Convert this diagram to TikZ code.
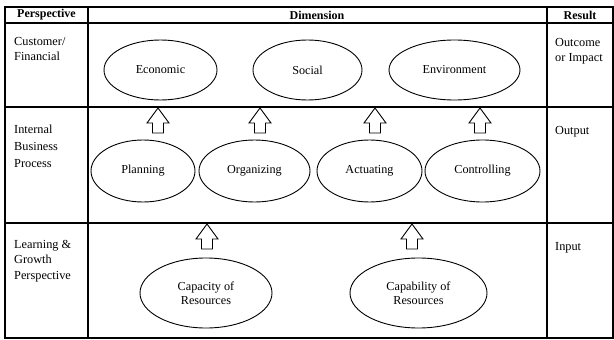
\documentclass[tikz,border=0pt]{standalone}
\usepackage{fontspec}
\setmainfont{Liberation Serif}
\usetikzlibrary{shapes.geometric}
\begin{document}
\begin{tikzpicture}[x=1pt,y=-1pt,
  tbl/.style={line width=1.3pt},
  oval/.style={draw, ellipse, line width=0.9pt, inner sep=0pt, font=\fontsize{12.2}{14}\selectfont, align=center},
  lbl/.style={anchor=north west, align=left, inner sep=0pt, font=\fontsize{12.3}{15.5}\selectfont},
  hdr/.style={font=\bfseries\fontsize{12}{14}\selectfont, inner sep=0pt},
  blockarrow/.pic={\draw[line width=0.9pt, fill=white] (-5.5,25) -- (-5.5,15) -- (-11,15) -- (0,0) -- (11,15) -- (5.5,15) -- (5.5,25) -- cycle;}
]
\useasboundingbox (0,0) rectangle (614,340);
% table
\draw[tbl] (5,7) rectangle (613,338);
\draw[tbl] (5,23) -- (613,23);
\draw[tbl] (5,107) -- (613,107);
\draw[tbl] (5,223) -- (613,223);
\draw[tbl] (88,7) -- (88,338);
\draw[tbl] (547,7) -- (547,338);
% headers
\node[hdr] (hp) at (46.5,15) {Perspective};
\node[hdr] (hd) at (317,15) {Dimension};
\node[hdr] (hr) at (580,15) {Result};
% left column
\node[lbl] (l1) at (14,37) {Customer/\\Financial};
\node[lbl, font=\fontsize{12.3}{17}\selectfont] (l2) at (14,125) {Internal\\Business\\Process};
\node[lbl] (l3) at (14,240) {Learning \&\\Growth\\Perspective};
% right column
\node[lbl] (r1) at (555,38) {Outcome\\or Impact};
\node[lbl] (r2) at (555,126) {Output};
\node[lbl] (r3) at (555,242) {Input};
% row 1 ellipses
\node[oval, minimum width=113, minimum height=60] (eco) at (160.5,70) {Economic};
\node[oval, minimum width=109, minimum height=60] (soc) at (307.5,70) {Social};
\node[oval, minimum width=131, minimum height=60] (env) at (454.5,70) {Environment};
% row 2 ellipses
\node[oval, minimum width=104, minimum height=62] (pla) at (143,171) {Planning};
\node[oval, minimum width=111, minimum height=62] (org) at (254.5,171) {Organizing};
\node[oval, minimum width=105, minimum height=62] (act) at (369.5,171) {Actuating};
\node[oval, minimum width=115, minimum height=62] (con) at (482.5,171) {Controlling};
% row 3 ellipses
\node[oval, minimum width=132, minimum height=70] (cap) at (206,293) {Capacity of\\Resources};
\node[oval, minimum width=137, minimum height=70] (cab) at (418.5,293) {Capability of\\Resources};
% block arrows
\pic at (158,108) {blockarrow};
\pic at (260,108) {blockarrow};
\pic at (375,108) {blockarrow};
\pic at (480,108) {blockarrow};
\pic at (207,224) {blockarrow};
\pic at (412,224) {blockarrow};
\end{tikzpicture}
\end{document}
